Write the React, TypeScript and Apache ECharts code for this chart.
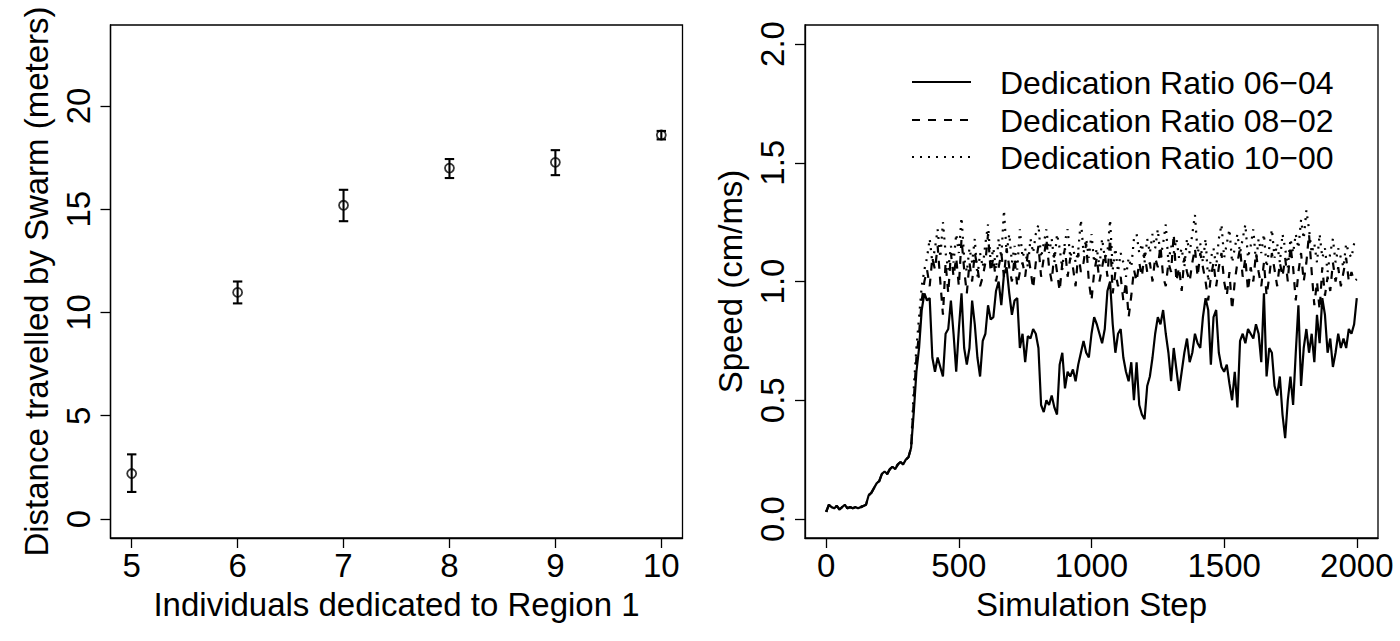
import React, { useEffect, useRef } from "react";
import * as echarts from "echarts";

// ---------- Left panel: distance travelled ----------
const individuals = [5, 6, 7, 8, 9, 10];
const distanceMean = [2.2, 10.97, 15.19, 16.99, 17.27, 18.59];
const distanceLow = [1.31, 10.44, 14.42, 16.51, 16.65, 18.38];
const distanceHigh = [3.13, 11.5, 15.94, 17.43, 17.86, 18.79];

const leftXTicks = [5, 6, 7, 8, 9, 10];
const leftYTicks = [0, 5, 10, 15, 20];
const rightXTicks = [0, 500, 1000, 1500, 2000];
const rightYTicks = [0, 0.5, 1, 1.5, 2];

// ---------- Right panel: speed over simulation steps ----------
const sampleEvery = 10; // simulation steps between samples
const startupStep = 0;
const mainStartStep = 330;

// steps 0..320, common start-up phase (the three curves overlap)
const speedStartup = [
  0.03, 0.06, 0.05, 0.045, 0.055, 0.04, 0.05, 0.06, 0.045, 0.05,
  0.045, 0.05, 0.045, 0.05, 0.055, 0.06, 0.10, 0.11, 0.13, 0.15,
  0.16, 0.19, 0.20, 0.19, 0.21, 0.22, 0.21, 0.23, 0.24, 0.23,
  0.25, 0.26, 0.30,
];

// steps 330..2000
const speed0604 = [
  0.45, 0.62, 0.72, 0.88, 0.95, 0.92, 0.93, 0.68, 0.62, 0.68,
  0.64, 0.60, 0.78, 0.80, 0.92, 0.78, 0.62, 0.80, 0.95, 0.72,
  0.65, 0.72, 0.92, 0.82, 0.68, 0.60, 0.75, 0.78, 0.90, 0.84,
  0.85, 0.96, 1.00, 0.90, 1.03, 1.06, 0.95, 0.86, 0.92, 0.93,
  0.72, 0.78, 0.66, 0.77, 0.76, 0.80, 0.78, 0.72, 0.48, 0.45,
  0.50, 0.48, 0.52, 0.47, 0.44, 0.65, 0.70, 0.55, 0.62, 0.60,
  0.63, 0.58, 0.65, 0.70, 0.75, 0.70, 0.68, 0.78, 0.85, 0.82,
  0.78, 0.74, 0.80, 0.96, 1.00, 0.82, 0.70, 0.78, 0.80, 0.68,
  0.62, 0.58, 0.66, 0.50, 0.66, 0.48, 0.44, 0.42, 0.56, 0.60,
  0.68, 0.78, 0.85, 0.82, 0.88, 0.78, 0.70, 0.58, 0.72, 0.63,
  0.54, 0.62, 0.70, 0.76, 0.66, 0.70, 0.78, 0.74, 0.72, 0.85,
  0.93, 0.88, 0.65, 0.85, 0.88, 0.70, 0.64, 0.62, 0.65, 0.57,
  0.50, 0.62, 0.47, 0.75, 0.78, 0.74, 0.80, 0.78, 0.76, 0.82,
  0.78, 0.66, 0.95, 0.60, 0.72, 0.70, 0.56, 0.52, 0.60, 0.44,
  0.34, 0.50, 0.60, 0.48, 0.70, 0.90, 0.56, 0.72, 0.80, 0.70,
  0.78, 0.66, 0.86, 0.74, 0.93, 0.86, 0.70, 0.76, 0.64, 0.70,
  0.78, 0.72, 0.76, 0.72, 0.80, 0.78, 0.82, 0.93,
];

const speed0802 = [
  0.50, 0.68, 0.78, 0.92, 1.00, 1.05, 0.98, 1.10, 1.05, 1.15,
  1.00, 0.86, 1.08, 0.95, 1.12, 1.02, 1.10, 0.98, 1.18, 1.05,
  0.95, 1.08, 1.00, 1.12, 1.06, 0.98, 1.02, 1.08, 1.20, 1.04,
  1.10, 1.00, 1.06, 1.12, 1.02, 1.14, 1.06, 1.00, 1.10, 0.98,
  1.04, 1.08, 1.02, 1.12, 1.05, 0.97, 1.08, 1.15, 1.02, 1.10,
  1.18, 1.06, 1.00, 1.12, 1.04, 0.96, 1.08, 1.14, 1.02, 1.10,
  1.06, 0.98, 1.12, 1.04, 1.08, 1.16, 1.00, 0.92, 1.04, 1.10,
  1.00, 1.06, 1.12, 1.02, 1.18, 0.95, 1.04, 0.98, 1.02, 0.92,
  1.00, 0.85, 0.94, 1.05, 1.00, 1.08, 1.02, 1.12, 1.04, 1.08,
  1.00, 1.10, 1.06, 1.15, 1.02, 0.98, 1.08, 1.04, 1.20, 1.00,
  1.06, 0.96, 1.10, 1.04, 1.00, 1.08, 1.14, 1.02, 1.12, 1.06,
  1.00, 0.92, 1.02, 1.08, 0.98, 1.06, 1.12, 1.00, 0.94, 1.04,
  0.88, 1.00, 1.08, 1.14, 1.02, 1.10, 0.96, 1.06, 1.00, 1.12,
  1.04, 0.98, 1.08, 0.94, 1.02, 1.12, 1.05, 0.98, 1.08, 1.02,
  1.10, 1.00, 1.15, 1.06, 0.92, 1.04, 1.12, 1.00, 1.08, 1.20,
  1.04, 0.90, 1.00, 0.88, 1.06, 0.94, 1.02, 0.96, 1.08, 1.00,
  1.06, 0.98, 1.04, 1.10, 1.00, 1.04, 1.00, 1.01,
];

const speed1000 = [
  0.55, 0.72, 0.85, 0.98, 1.05, 1.10, 1.18, 1.08, 1.14, 1.22,
  1.10, 1.25, 1.12, 1.05, 1.15, 1.08, 1.20, 1.12, 1.27, 1.10,
  1.04, 1.14, 1.08, 1.18, 1.02, 1.12, 1.06, 1.16, 1.24, 1.08,
  1.14, 1.05, 1.18, 1.10, 1.30, 1.12, 1.20, 1.08, 1.15, 1.05,
  1.22, 1.10, 1.14, 1.06, 1.18, 1.12, 1.20, 1.24, 1.10, 1.16,
  1.22, 1.12, 1.18, 1.08, 1.20, 1.14, 1.05, 1.17, 1.22, 1.10,
  1.15, 1.08, 1.13, 1.26, 1.12, 1.18, 1.10, 1.20, 1.08, 1.14,
  1.06, 1.18, 1.10, 1.12, 1.26, 1.05, 1.14, 1.04, 1.12, 1.08,
  1.02, 1.10, 1.06, 1.18, 1.20, 1.12, 1.16, 1.08, 1.18, 1.12,
  1.20, 1.14, 1.22, 1.10, 1.16, 1.24, 1.08, 1.15, 1.12, 1.18,
  1.10, 1.14, 1.06, 1.18, 1.12, 1.20, 1.28, 1.12, 1.16, 1.08,
  1.18, 1.00, 1.10, 1.14, 1.06, 1.18, 1.24, 1.10, 1.16, 1.22,
  1.08, 1.14, 1.20, 1.12, 1.18, 1.24, 1.10, 1.15, 1.22, 1.08,
  1.18, 1.12, 1.20, 1.06, 1.14, 1.22, 1.10, 1.16, 1.08, 1.20,
  1.14, 1.06, 1.18, 1.12, 1.20, 1.14, 1.26, 1.18, 1.30, 1.22,
  1.12, 1.16, 1.08, 1.20, 1.10, 1.14, 1.04, 1.12, 1.18, 1.08,
  1.14, 1.10, 1.06, 1.16, 1.12, 1.10, 1.16, 1.14,
];

const legendLabels = [
  "Dedication Ratio 06\u221204",
  "Dedication Ratio 08\u221202",
  "Dedication Ratio 10\u221200",
];

const FONT = "'Liberation Sans', Arial, Helvetica, sans-serif";
const FS = 33;
const LEGEND_FS = 32;

function buildSeries(main: number[]): [number, number][] {
  const pts: [number, number][] = [];
  speedStartup.forEach((v, i) => pts.push([startupStep + i * sampleEvery, v]));
  main.forEach((v, i) => pts.push([mainStartStep + i * sampleEvery, v]));
  return pts;
}

export default function App() {
  const ref = useRef<HTMLDivElement>(null);

  useEffect(() => {
    if (!ref.current) return;
    const chart = echarts.init(ref.current, null, { renderer: "svg" });

    const axisCommon = {
      axisLine: { show: true, onZero: false, lineStyle: { color: "#000", width: 1.3 } },
      splitLine: { show: false },
      axisTick: { show: true, inside: false, length: 10, lineStyle: { color: "#000", width: 1.3 } },
    };
    const labelCommon = { color: "#000", fontSize: FS, fontFamily: FONT };
    const nameCommon = { color: "#000", fontSize: FS, fontFamily: FONT };

    const lineTypes: any[] = ["solid", [8, 8], [2, 6]];
    const lineData = [speed0604, speed0802, speed1000];

    const legendGraphics: any[] = [];
    const legendY = [82, 120, 157];
    legendLabels.forEach((lab, i) => {
      legendGraphics.push({
        type: "line",
        shape: { x1: 912, y1: legendY[i], x2: 971, y2: legendY[i] },
        style: { stroke: "#000", lineWidth: 2, lineDash: i === 0 ? null : lineTypes[i] },
        silent: true,
      });
      legendGraphics.push({
        type: "text",
        x: 1000,
        y: legendY[i] + 1,
        style: {
          text: lab,
          fill: "#000",
          fontSize: LEGEND_FS,
          fontFamily: FONT,
          verticalAlign: "middle",
          textVerticalAlign: "middle",
          align: "left",
        },
        silent: true,
      });
    });

    const option: any = {
      animation: false,
      backgroundColor: "#fff",
      textStyle: { fontFamily: FONT },
      grid: [
        {
          left: 110.5, top: 25, width: 572, height: 513,
          show: true, borderColor: "#000", borderWidth: 1.3, backgroundColor: "transparent",
          containLabel: false,
        },
        {
          left: 805, top: 25, width: 573, height: 513,
          show: true, borderColor: "#000", borderWidth: 1.3, backgroundColor: "transparent",
          containLabel: false,
        },
      ],
      xAxis: [
        {
          type: "value", gridIndex: 0, min: 4.8, max: 10.2, position: "bottom",
          ...axisCommon,
          axisTick: { ...axisCommon.axisTick, customValues: leftXTicks },
          axisLabel: { ...labelCommon, margin: 11, customValues: leftXTicks, formatter: (v: number) => String(v) },
          name: "Individuals dedicated to Region 1",
          nameLocation: "middle", nameGap: 50, nameTextStyle: nameCommon,
        },
        {
          type: "value", gridIndex: 1, min: -80, max: 2080, position: "bottom",
          ...axisCommon,
          axisTick: { ...axisCommon.axisTick, customValues: rightXTicks },
          axisLabel: { ...labelCommon, margin: 11, customValues: rightXTicks, formatter: (v: number) => String(v) },
          name: "Simulation Step",
          nameLocation: "middle", nameGap: 50, nameTextStyle: nameCommon,
        },
      ],
      yAxis: [
        {
          type: "value", gridIndex: 0, min: -0.92, max: 23.92, position: "left",
          ...axisCommon,
          axisTick: { ...axisCommon.axisTick, customValues: leftYTicks },
          axisLabel: { ...labelCommon, rotate: 90, margin: 16, customValues: leftYTicks, formatter: (v: number) => String(v) },
          name: "Distance travelled by Swarm (meters)",
          nameLocation: "middle", nameGap: 58, nameTextStyle: nameCommon,
        },
        {
          type: "value", gridIndex: 1, min: -0.08, max: 2.08, position: "left",
          ...axisCommon,
          axisTick: { ...axisCommon.axisTick, customValues: rightYTicks },
          axisLabel: {
            ...labelCommon, rotate: 90, margin: 16, customValues: rightYTicks,
            formatter: (v: number) => v.toFixed(1),
          },
          name: "Speed (cm/ms)",
          nameLocation: "middle", nameGap: 58, nameTextStyle: nameCommon,
        },
      ],
      series: [
        {
          type: "custom",
          xAxisIndex: 0, yAxisIndex: 0,
          data: individuals.map((x, i) => [x, distanceLow[i], distanceHigh[i]]),
          encode: { x: 0, y: [1, 2] },
          renderItem: (_params: any, api: any) => {
            const x = api.value(0);
            const pLo = api.coord([x, api.value(1)]);
            const pHi = api.coord([x, api.value(2)]);
            const w = 4.7;
            const style = { stroke: "#000", lineWidth: 2.1 };
            return {
              type: "group",
              children: [
                { type: "line", shape: { x1: pLo[0], y1: pLo[1], x2: pHi[0], y2: pHi[1] }, style },
                { type: "line", shape: { x1: pLo[0] - w, y1: pLo[1], x2: pLo[0] + w, y2: pLo[1] }, style },
                { type: "line", shape: { x1: pHi[0] - w, y1: pHi[1], x2: pHi[0] + w, y2: pHi[1] }, style },
              ],
            };
          },
          silent: true,
        },
        {
          type: "scatter",
          xAxisIndex: 0, yAxisIndex: 0,
          data: individuals.map((x, i) => [x, distanceMean[i]]),
          symbol: "circle",
          symbolSize: 9,
          itemStyle: { color: "rgba(0,0,0,0)", borderColor: "#000", borderWidth: 1.8 },
          silent: true,
        },
        ...lineData.map((d, i) => ({
          type: "line",
          xAxisIndex: 1, yAxisIndex: 1,
          data: buildSeries(d),
          showSymbol: false,
          symbol: "none",
          lineStyle: { color: "#000", width: 2.2, type: lineTypes[i] },
          silent: true,
        })),
      ],
      graphic: legendGraphics,
    };

    chart.setOption(option);
    return () => chart.dispose();
  }, []);

  return (
    <div
      ref={ref}
      style={{ position: "absolute", left: 0, top: 0, width: 1400, height: 641, background: "#fff" }}
    />
  );
}
